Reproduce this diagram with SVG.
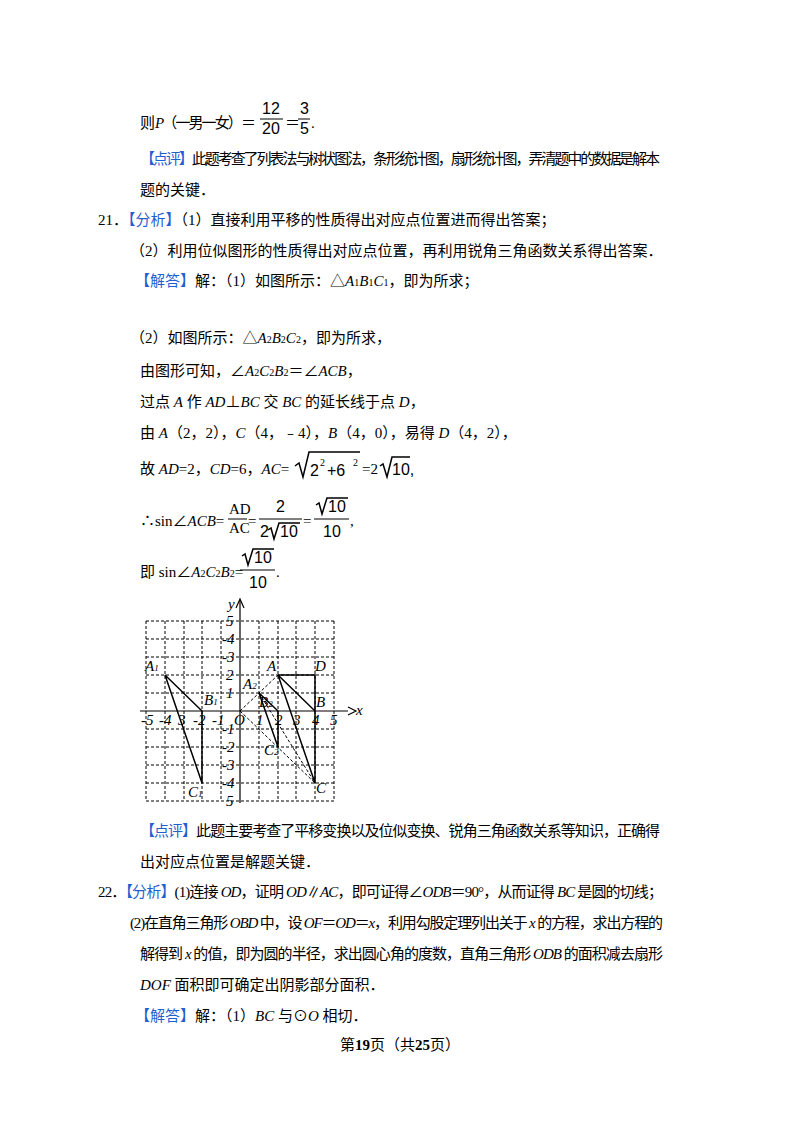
<svg xmlns="http://www.w3.org/2000/svg" width="800" height="1132" viewBox="0 0 800 1132">
<style>
text{font-family:"Liberation Serif","Noto Sans CJK SC",serif;font-size:15px;fill:#000}
.i{font-style:italic}
.b{fill:#1f5fd0}
.s{font-size:10px}
.g{stroke:#000;stroke-width:1;stroke-dasharray:3,2;fill:none}
.l{stroke:#000;stroke-width:1.5;fill:none}
.f{font-family:"DejaVu Sans",sans-serif;font-size:13px;font-style:italic;fill:#222}
.n{font-family:"Liberation Sans",sans-serif;font-size:16px}
</style>
<rect width="800" height="1132" fill="#fff"/>
<g id="text">
<text x="140" y="128" textLength="116">则 <tspan class="i">P</tspan>（一男一女）＝</text>
<text x="262" y="114" class="n">12</text><line x1="260" y1="119" x2="283" y2="119" stroke="#000"/><text x="262" y="134" class="n">20</text>
<text x="285" y="128">＝</text>
<text x="300" y="114" class="n">3</text><line x1="298" y1="119" x2="310" y2="119" stroke="#000"/><text x="300" y="134" class="n">5</text>
<text x="311" y="128">.</text>
<text x="140" y="164" textLength="520"><tspan class="b">【点评】</tspan>此题考查了列表法与树状图法，条形统计图，扇形统计图，弄清题中的数据是解本</text>
<text x="140" y="195">题的关键．</text>
<text x="98" y="225">21．<tspan class="b">【分析】</tspan>（1）直接利用平移的性质得出对应点位置进而得出答案；</text>
<text x="130" y="256">（2）利用位似图形的性质得出对应点位置，再利用锐角三角函数关系得出答案．</text>
<text x="135" y="286"><tspan class="b">【解答】</tspan>解：（1）如图所示：△<tspan class="i">A</tspan><tspan class="s">1</tspan><tspan class="i">B</tspan><tspan class="s">1</tspan><tspan class="i">C</tspan><tspan class="s">1</tspan>，即为所求；</text>
<text x="130" y="343">（2）如图所示：△<tspan class="i">A</tspan><tspan class="s">2</tspan><tspan class="i">B</tspan><tspan class="s">2</tspan><tspan class="i">C</tspan><tspan class="s">2</tspan>，即为所求，</text>
<text x="140" y="376">由图形可知，∠<tspan class="i">A</tspan><tspan class="s">2</tspan><tspan class="i">C</tspan><tspan class="s">2</tspan><tspan class="i">B</tspan><tspan class="s">2</tspan>＝∠<tspan class="i">ACB</tspan>，</text>
<text x="140" y="407">过点 <tspan class="i">A</tspan> 作 <tspan class="i">AD</tspan>⊥<tspan class="i">BC</tspan> 交 <tspan class="i">BC</tspan> 的延长线于点 <tspan class="i">D</tspan>，</text>
<text x="140" y="438">由 <tspan class="i">A</tspan>（2，2），<tspan class="i">C</tspan>（4，﹣4），<tspan class="i">B</tspan>（4，0），易得 <tspan class="i">D</tspan>（4，2），</text>
<text x="140" y="474">故 <tspan class="i">AD</tspan>=2，<tspan class="i">CD</tspan>=6，<tspan class="i">AC</tspan>=</text>
<path d="M295 466 L299 463 L303 477 L309 452 L360 452" class="l" stroke-width="1"/>
<text x="310" y="476" class="n">2</text><text x="320" y="466" class="s" font-family="Liberation Sans">2</text>
<text x="327" y="476" class="n">+6</text><text x="353" y="466" class="s" font-family="Liberation Sans">2</text>
<text x="362" y="474">=2</text>
<path d="M380 466 L383 464 L387 477 L392 457 L410 457" class="l" stroke-width="1"/>
<text x="392" y="475" class="n">10,</text>
<text x="140" y="526">∴sin∠<tspan class="i">ACB</tspan>=</text>
<text x="229" y="514" font-size="13">AD</text><line x1="228" y1="519" x2="247" y2="519" stroke="#000"/><text x="229" y="533" font-size="13">AC</text>
<text x="248" y="526">=</text>
<text x="276" y="512" class="n">2</text><line x1="259" y1="519" x2="302" y2="519" stroke="#000"/>
<text x="260" y="537" class="n">2</text><path d="M268 530 L271 528 L274 539 L279 523 L300 523" class="l" stroke-width="1"/><text x="280" y="537" class="n">10</text>
<text x="303" y="526">=</text>
<path d="M316 505 L319 503 L322 514 L327 498 L348 498" class="l" stroke-width="1"/><text x="328" y="512" class="n">10</text>
<line x1="314" y1="519" x2="349" y2="519" stroke="#000"/><text x="323" y="537" class="n">10</text>
<text x="350" y="526">,</text>
<text x="140" y="577">即 sin∠<tspan class="i">A</tspan><tspan class="s">2</tspan><tspan class="i">C</tspan><tspan class="s">2</tspan><tspan class="i">B</tspan><tspan class="s">2</tspan>=</text>
<path d="M242 556 L245 554 L248 565 L253 549 L274 549" class="l" stroke-width="1"/><text x="254" y="563" class="n">10</text>
<line x1="240" y1="570" x2="275" y2="570" stroke="#000"/><text x="249" y="588" class="n">10</text>
<text x="276" y="577">.</text>
<text x="140" y="836" textLength="520"><tspan class="b">【点评】</tspan>此题主要考查了平移变换以及位似变换、锐角三角函数关系等知识，正确得</text>
<text x="140" y="867">出对应点位置是解题关键．</text>
<text x="98" y="897" textLength="565">22．<tspan class="b">【分析】</tspan>(1)连接 <tspan class="i">OD</tspan>，证明 <tspan class="i">OD</tspan>∥<tspan class="i">AC</tspan>，即可证得∠<tspan class="i">ODB</tspan>＝90°，从而证得 <tspan class="i">BC</tspan> 是圆的切线；</text>
<text x="130" y="928" textLength="533">(2)在直角三角形 <tspan class="i">OBD</tspan> 中，设 <tspan class="i">OF</tspan>＝<tspan class="i">OD</tspan>＝<tspan class="i">x</tspan>，利用勾股定理列出关于 <tspan class="i">x</tspan> 的方程，求出方程的</text>
<text x="140" y="959" textLength="523">解得到 <tspan class="i">x</tspan> 的值，即为圆的半径，求出圆心角的度数，直角三角形 <tspan class="i">ODB</tspan> 的面积减去扇形</text>
<text x="140" y="990"><tspan class="i">DOF</tspan> 面积即可确定出阴影部分面积．</text>
<text x="135" y="1021"><tspan class="b">【解答】</tspan>解：（1）<tspan class="i">BC</tspan> 与⊙<tspan class="i">O</tspan> 相切．</text>
<text x="400" y="1050" text-anchor="middle" font-size="13">第<tspan font-weight="bold" font-size="15">19</tspan>页（共<tspan font-weight="bold" font-size="15">25</tspan>页）</text>
</g>
<g id="figure" transform="translate(240,711)">
<path class="g" d="M-94 -90H94M-94 -72H94M-94 -54H94M-94 -36H94M-94 -18H94M-94 18H94M-94 36H94M-94 54H94M-94 72H94M-94 90H94M-94 -90V90M-75 -90V90M-56 -90V90M-38 -90V90M-19 -90V90M19 -90V90M38 -90V90M56 -90V90M75 -90V90M94 -90V90"/>
<g id="connectors">
<path d="M-100 0H108M0 92V-110" stroke="#000" stroke-width="1.2" fill="none"/>
<path d="M108 -4L116 0L108 4M-4 -103L0 -112L4 -103" stroke="#000" stroke-width="1.2" fill="none"/>
<path class="g" d="M0 0L38 -36M0 0L75 72M19 -18L75 72"/>
<path class="l" d="M-75 -36L-38 0L-38 72Z M38 -36L75 0L75 72Z M38 -36H75V0 M19 -18L38 0L38 36Z"/>
</g>
<g class="f">
<text x="-12" y="-102">y</text><text x="116" y="4">x</text>
<text x="-14" y="-85">5</text><text x="-18" y="-67">-4</text><text x="-18" y="-49">-3</text><text x="-14" y="-31">2</text><text x="-14" y="-13">1</text>
<text x="-18" y="23">-1</text><text x="-18" y="41">-2</text><text x="-18" y="59">-3</text><text x="-18" y="77">-4</text><text x="-14" y="95">5</text>
<text x="-99" y="14">-5</text><text x="-81" y="14">-4</text><text x="-62" y="14">3</text><text x="-47" y="14">-2</text><text x="-28" y="14">-1</text>
<text x="-6" y="14">O</text><text x="16" y="14">1</text><text x="35" y="14">2</text><text x="53" y="14">3</text><text x="72" y="14">4</text><text x="90" y="14">5</text>
<text x="-95" y="-40">A<tspan font-size="9">1</tspan></text><text x="-36" y="-6">B<tspan font-size="9">1</tspan></text><text x="-52" y="86">C<tspan font-size="9">1</tspan></text>
<text x="27" y="-40" font-size="11">A</text><text x="75" y="-40">D</text><text x="76" y="-4">B</text><text x="76" y="82">C</text>
<text x="3" y="-22">A<tspan font-size="9">2</tspan></text><text x="19" y="-4">B<tspan font-size="9">2</tspan></text><text x="24" y="44">C<tspan font-size="9">2</tspan></text>
</g>
</g>
</svg>
